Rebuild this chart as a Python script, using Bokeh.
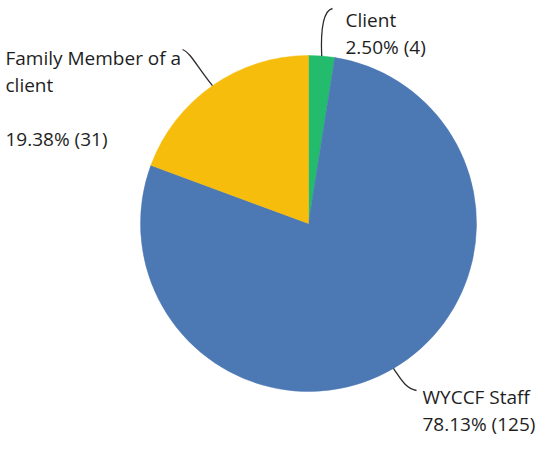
import math
from bokeh.plotting import figure
from bokeh.models import Range1d, ColumnDataSource
from bokeh.core.properties import value
from bokeh.embed import file_html
from bokeh.resources import INLINE

# ---- data ----
categories = ["Client", "WYCCF Staff", "Family Member of a client"]
counts = [4, 125, 31]
percents = [2.50, 78.13, 19.38]
colors = ["#22bc6c", "#4c79b4", "#f6bd0c"]

W, H = 541, 437
p = figure(width=W, height=H, output_backend="svg", toolbar_location=None,
           x_range=Range1d(0, W), y_range=Range1d(0, H), min_border=0)
p.axis.visible = False
p.grid.visible = False
p.outline_line_color = None
p.background_fill_color = "white"

# reference-page pixel -> figure data coordinates (8px page margin)
def tx(x):
    return x - 8

def ty(y):
    return H - (y - 8)

cx, cy, r = tx(316), ty(231), 168
total = sum(counts)
start = math.pi / 2
starts, ends, mids = [], [], []
for c in counts:
    a = 2 * math.pi * c / total
    starts.append(start)
    ends.append(start - a)
    mids.append(start - a / 2)
    start -= a

src = ColumnDataSource(dict(x=[cx] * 3, y=[cy] * 3, s=starts, e=ends, color=colors, cat=categories))
p.wedge(x="x", y="y", radius=r, start_angle="s", end_angle="e", direction="clock",
        fill_color="color", line_color="color", line_width=0.5, source=src)

# leader lines
ends_ref = [(340, 16), (424, 398), (190, 57)]
cps = [((328, 35), (331, 18)), ((408, 386), (413, 396)), ((205, 75), (198, 60))]
x0s, y0s, x1s, y1s, c0x, c0y, c1x, c1y = [], [], [], [], [], [], [], []
for m, e, (k0, k1) in zip(mids, ends_ref, cps):
    x0s.append(cx + r * math.cos(m)); y0s.append(cy + r * math.sin(m))
    x1s.append(tx(e[0])); y1s.append(ty(e[1]))
    c0x.append(tx(k0[0])); c0y.append(ty(k0[1]))
    c1x.append(tx(k1[0])); c1y.append(ty(k1[1]))
p.bezier(x0=x0s, y0=y0s, x1=x1s, y1=y1s, cx0=c0x, cy0=c0y, cx1=c1x, cy1=c1y,
         line_color="#2b2b2b", line_width=1.3)

# labels
lab_lines = [
    ["Client", f"{percents[0]:.2f}% ({counts[0]})"],
    ["WYCCF Staff", f"{percents[1]:.2f}% ({counts[1]})"],
    ["Family Member of a", "client", "", f"{percents[2]:.2f}% ({counts[2]})"],
]
lab_pos = [(353, 27), (430, 404), (13, 65)]
tx_, ty_, tt = [], [], []
for lines, (lx, ly) in zip(lab_lines, lab_pos):
    for i, t in enumerate(lines):
        if t:
            tx_.append(tx(lx)); ty_.append(ty(ly + 27 * i)); tt.append(t)
p.text(x=tx_, y=ty_, text=tt, text_font=value("Open Sans"), text_font_size="19px",
       text_color="#1e1e1e", text_baseline="alphabetic", text_align="left")

open("out.html", "w").write(file_html(p, INLINE))
